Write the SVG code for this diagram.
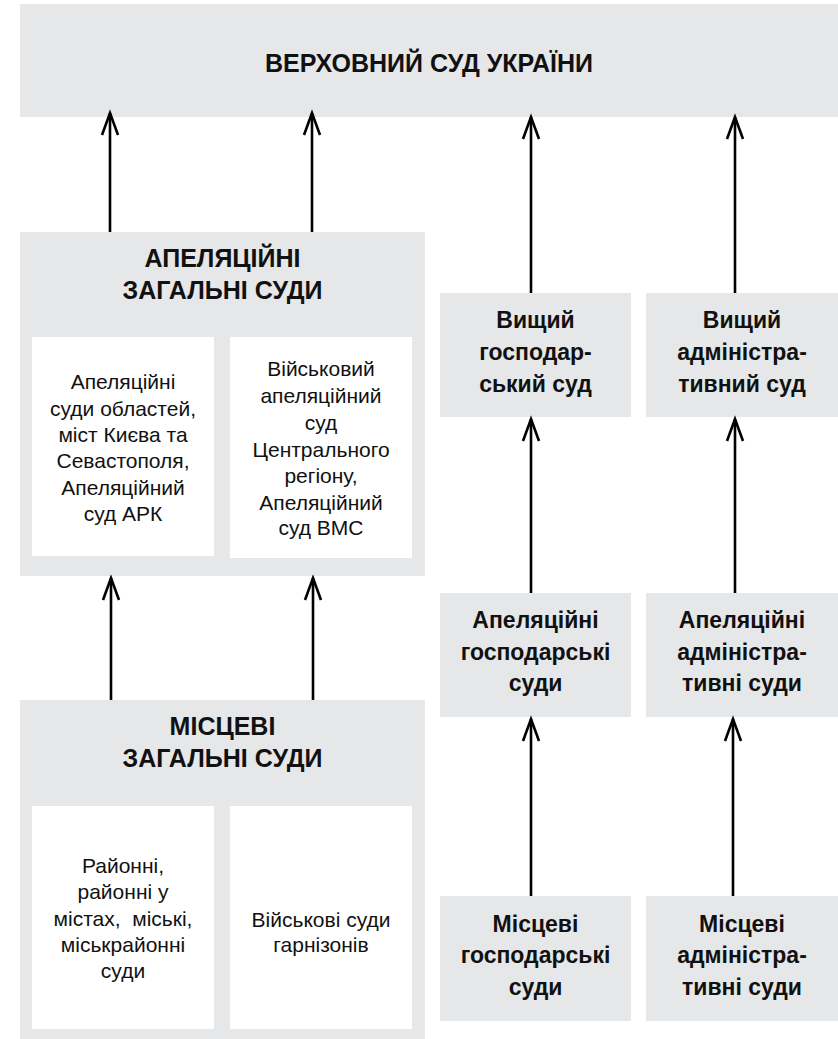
<svg xmlns="http://www.w3.org/2000/svg" width="838" height="1039" viewBox="0 0 838 1039">
<defs>
<style>
.g{fill:#e6e7e8}
.w{fill:#ffffff}
.t{font-family:"Liberation Sans",Arial,sans-serif;fill:#111;text-anchor:middle}
.h{font-size:25px;font-weight:bold}
.b{font-size:23px;font-weight:bold}
.r{font-size:21px}
.c{stroke:#000;stroke-width:2.6;fill:none;marker-end:url(#ah)}
</style>
<marker id="ah" markerUnits="userSpaceOnUse" markerWidth="30" markerHeight="30" refX="0" refY="0" orient="auto" overflow="visible">
<path d="M-22,-8 L0,0 L-22,8" fill="none" stroke="#000" stroke-width="2.6"/>
</marker>
</defs>
<rect width="838" height="1039" fill="#fff"/>
<g id="supreme">
<rect class="g" x="20" y="4" width="818" height="113"/>
<text class="t h" x="429" y="72">ВЕРХОВНИЙ СУД УКРАЇНИ</text>
</g>
<g id="appeal-general">
<rect class="g" x="20" y="232" width="405" height="344"/>
<text class="t h" x="222.5" y="267">АПЕЛЯЦІЙНІ</text>
<text class="t h" x="222.5" y="299">ЗАГАЛЬНІ СУДИ</text>
</g>
<g id="appeal-regional">
<rect class="w" x="32" y="337" width="182" height="219"/>
<text class="t r" x="123"><tspan x="123" y="389">Апеляційні</tspan><tspan x="123" y="416">суди областей,</tspan><tspan x="123" y="442">міст Києва та</tspan><tspan x="123" y="468">Севастополя,</tspan><tspan x="123" y="495">Апеляційний</tspan><tspan x="123" y="521">суд АРК</tspan></text>
</g>
<g id="appeal-military">
<rect class="w" x="230" y="337" width="182" height="221"/>
<text class="t r" x="321"><tspan x="321" y="376">Військовий</tspan><tspan x="321" y="403">апеляційний</tspan><tspan x="321" y="430">суд</tspan><tspan x="321" y="457">Центрального</tspan><tspan x="321" y="483">регіону,</tspan><tspan x="321" y="510">Апеляційний</tspan><tspan x="321" y="535">суд ВМС</tspan></text>
</g>
<g id="local-general">
<rect class="g" x="20" y="700" width="405" height="339"/>
<text class="t h" x="222.5" y="735">МІСЦЕВІ</text>
<text class="t h" x="222.5" y="767">ЗАГАЛЬНІ СУДИ</text>
</g>
<g id="local-district">
<rect class="w" x="32" y="806" width="182" height="223"/>
<text class="t r" x="123"><tspan x="123" y="873">Районні,</tspan><tspan x="123" y="899">районні у</tspan><tspan x="123" y="926">містах,&#160; міські,</tspan><tspan x="123" y="952">міськрайонні</tspan><tspan x="123" y="978">суди</tspan></text>
</g>
<g id="local-military">
<rect class="w" x="230" y="806" width="182" height="223"/>
<text class="t r" x="321"><tspan x="321" y="927">Військові суди</tspan><tspan x="321" y="952">гарнізонів</tspan></text>
</g>
<g id="high-commercial">
<rect class="g" x="440" y="293" width="191" height="124"/>
<text class="t b"><tspan x="535.5" y="328">Вищий</tspan><tspan x="535.5" y="360">господар-</tspan><tspan x="535.5" y="392">ський суд</tspan></text>
</g>
<g id="high-admin">
<rect class="g" x="646" y="293" width="192" height="124"/>
<text class="t b"><tspan x="742" y="328">Вищий</tspan><tspan x="742" y="360">адміністра-</tspan><tspan x="742" y="392">тивний суд</tspan></text>
</g>
<g id="appeal-commercial">
<rect class="g" x="440" y="593" width="191" height="124"/>
<text class="t b"><tspan x="535.5" y="628">Апеляційні</tspan><tspan x="535.5" y="660">господарські</tspan><tspan x="535.5" y="691">суди</tspan></text>
</g>
<g id="appeal-admin">
<rect class="g" x="646" y="593" width="192" height="124"/>
<text class="t b"><tspan x="742" y="628">Апеляційні</tspan><tspan x="742" y="660">адміністра-</tspan><tspan x="742" y="691">тивні суди</tspan></text>
</g>
<g id="local-commercial">
<rect class="g" x="440" y="896" width="191" height="125"/>
<text class="t b"><tspan x="535.5" y="932">Місцеві</tspan><tspan x="535.5" y="963">господарські</tspan><tspan x="535.5" y="995">суди</tspan></text>
</g>
<g id="local-admin">
<rect class="g" x="646" y="896" width="192" height="125"/>
<text class="t b"><tspan x="742" y="932">Місцеві</tspan><tspan x="742" y="963">адміністра-</tspan><tspan x="742" y="995">тивні суди</tspan></text>
</g>
<g id="connectors">
<line class="c" x1="110" y1="232" x2="110" y2="113"/>
<line class="c" x1="312" y1="232" x2="312" y2="113"/>
<line class="c" x1="531" y1="293" x2="531" y2="117"/>
<line class="c" x1="735" y1="293" x2="735" y2="117"/>
<line class="c" x1="531" y1="593" x2="531" y2="419"/>
<line class="c" x1="735" y1="593" x2="735" y2="419"/>
<line class="c" x1="111" y1="700" x2="111" y2="578"/>
<line class="c" x1="313" y1="700" x2="313" y2="578"/>
<line class="c" x1="531" y1="896" x2="531" y2="719"/>
<line class="c" x1="733" y1="896" x2="733" y2="719"/>
</g>
</svg>
